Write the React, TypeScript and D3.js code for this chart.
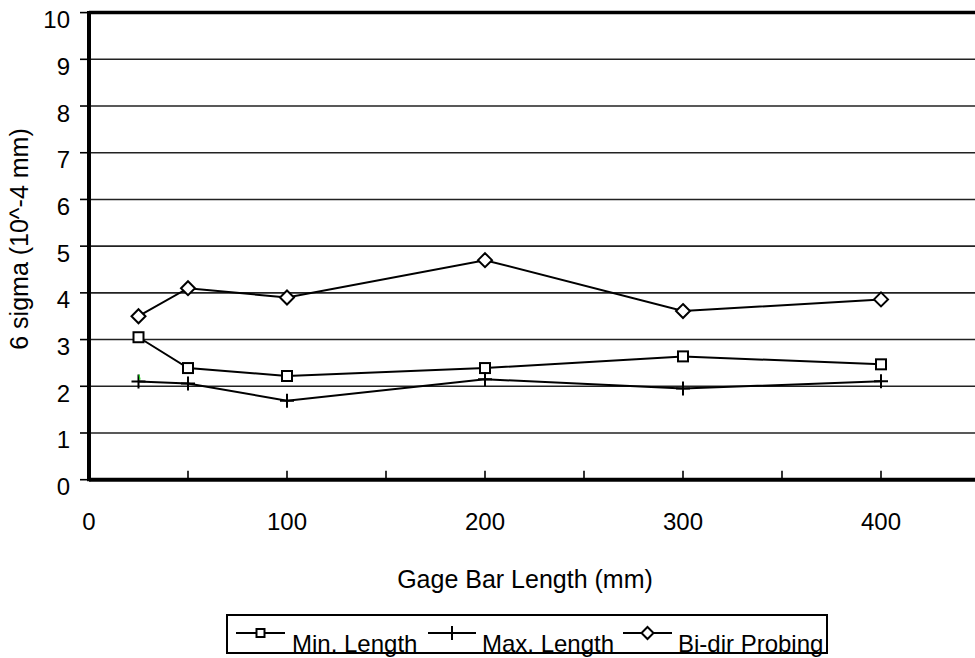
import React from "react";
import * as d3 from "d3";

const xValues = [25, 50, 100, 200, 300, 400];
const minLength = [3.05, 2.39, 2.22, 2.39, 2.64, 2.47];
const maxLength = [2.1, 2.06, 1.69, 2.15, 1.95, 2.11];
const biDir = [3.5, 4.1, 3.9, 4.7, 3.61, 3.86];
const yTicks = [0, 1, 2, 3, 4, 5, 6, 7, 8, 9, 10];
const xTickMarks = [50, 100, 150, 200, 250, 300, 350, 400, 450];
const xTickLabels = [0, 100, 200, 300, 400];
const seriesNames = ["Min. Length", "Max. Length", "Bi-dir Probing"];

const W = 975;
const H = 658;
const FONT = "'Liberation Sans', Arial, sans-serif";

function Marker({ kind, x, y, s }: { kind: string; x: number; y: number; s: number }) {
  if (kind === "square")
    return <rect x={x - s / 2} y={y - s / 2} width={s} height={s} fill="white" stroke="black" strokeWidth={2} />;
  if (kind === "plus")
    return (
      <path d={`M${x - s / 2},${y}H${x + s / 2}M${x},${y - s / 2}V${y + s / 2}`} stroke="black" strokeWidth={2} fill="none" />
    );
  return (
    <path
      d={`M${x},${y - s / 2}L${x + s / 2},${y}L${x},${y + s / 2}L${x - s / 2},${y}Z`}
      fill="white"
      stroke="black"
      strokeWidth={2}
    />
  );
}

export default function App() {
  const x = d3.scaleLinear().domain([0, 450]).range([89, 980]);
  const y = d3.scaleLinear().domain([0, 10]).range([479.7, 12.6]);
  const line = d3
    .line<[number, number]>()
    .x((d) => x(d[0]))
    .y((d) => y(d[1]));

  const series = [
    { name: seriesNames[0], values: minLength, kind: "square", size: 10 },
    { name: seriesNames[1], values: maxLength, kind: "plus", size: 14 },
    { name: seriesNames[2], values: biDir, kind: "diamond", size: 14 },
  ];

  const legendItems = [
    { kind: "square", s: 8, x0: 236, x1: 285, tx: 292 },
    { kind: "plus", s: 14, x0: 428, x1: 476, tx: 482 },
    { kind: "diamond", s: 12, x0: 623, x1: 672, tx: 678 },
  ];

  const gx = x(xValues[0]);
  const gy = y(maxLength[0]);

  return (
    <svg
      width={W}
      height={H}
      style={{ position: "absolute", left: 0, top: 0, background: "white" }}
      fontFamily={FONT}
    >
      <rect x={0} y={0} width={W} height={H} fill="white" />
      {/* grid lines */}
      {yTicks.slice(1, 10).map((t) => (
        <line key={t} x1={x(0)} x2={W} y1={y(t)} y2={y(t)} stroke="#222" strokeWidth={1.6} />
      ))}
      {/* top border */}
      <line x1={x(0)} x2={W} y1={y(10)} y2={y(10)} stroke="black" strokeWidth={3.5} />
      {/* y ticks */}
      {yTicks.map((t) => (
        <g key={t}>
          <line x1={x(0) - 9} x2={x(0)} y1={y(t)} y2={y(t)} stroke="black" strokeWidth={1.6} />
          <text x={70} y={y(t) + 15.5} fontSize={24} textAnchor="end" fill="black">
            {t}
          </text>
        </g>
      ))}
      {/* x ticks */}
      {xTickMarks.map((t) => (
        <line key={t} x1={x(t)} x2={x(t)} y1={y(0)} y2={y(0) - 9} stroke="black" strokeWidth={1.6} />
      ))}
      {xTickLabels.map((t) => (
        <text key={t} x={x(t)} y={530} fontSize={24} textAnchor="middle" fill="black">
          {t}
        </text>
      ))}
      {/* axes */}
      <line x1={x(0)} x2={x(0)} y1={y(10) - 1.5} y2={y(0) + 1.5} stroke="black" strokeWidth={4} />
      <line x1={x(0)} x2={W} y1={y(0)} y2={y(0)} stroke="black" strokeWidth={4} />
      {/* series */}
      {series.map((s) => {
        const pts: [number, number][] = xValues.map((xv, i) => [xv, s.values[i]]);
        return (
          <g key={s.name}>
            <path d={line(pts) || ""} fill="none" stroke="black" strokeWidth={2} />
            {pts.map((p, i) => (
              <Marker key={i} kind={s.kind} x={x(p[0])} y={y(p[1])} s={s.size} />
            ))}
          </g>
        );
      })}
      {/* small green stroke artifact near first Max. Length marker */}
      <line x1={gx + 0.5} y1={gy - 7} x2={gx + 1.5} y2={gy - 2} stroke="#22dd22" strokeWidth={1.2} />
      {/* axis titles */}
      <text x={525} y={588} fontSize={25} textAnchor="middle" fill="black">
        Gage Bar Length (mm)
      </text>
      <text
        transform={`translate(28,239) rotate(-90)`}
        fontSize={25}
        textAnchor="middle"
        fill="black"
      >
        6 sigma (10^-4 mm)
      </text>
      {/* legend */}
      <rect x={227} y={615} width={600} height={38} fill="white" stroke="black" strokeWidth={2} />
      {legendItems.map((it, i) => (
        <g key={i}>
          <line x1={it.x0} x2={it.x1} y1={633} y2={633} stroke="black" strokeWidth={2} />
          <Marker kind={it.kind} x={(it.x0 + it.x1) / 2} y={633} s={it.s} />
          <text x={it.tx} y={652} fontSize={24} fill="black">
            {seriesNames[i]}
          </text>
        </g>
      ))}
    </svg>
  );
}
